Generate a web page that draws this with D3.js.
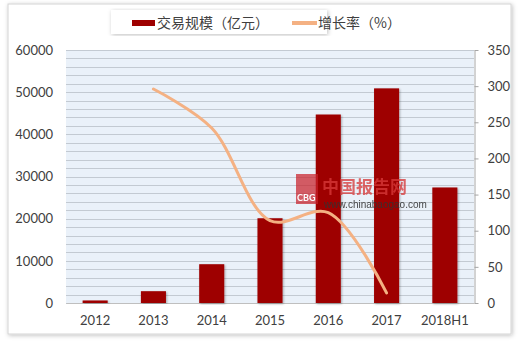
<!DOCTYPE html>
<html>
<head>
<meta charset="utf-8">
<script src="https://cdn.jsdelivr.net/npm/d3@7"></script>
<style>
  body { margin: 0; background: #fff; }
  svg { display: block; }
</style>
</head>
<body>
<div id="root"></div>
<script>
// chart values
var years = ['2012', '2013', '2014', '2015', '2016', '2017', '2018H1'];
var scaleValues = [600, 2800, 9200, 20100, 44700, 50900, 27400]; // 交易规模（亿元）
var growthYears = ['2013', '2014', '2015', '2016', '2017'];
var growthValues = [296, 242, 114, 125, 14]; // 增长率（%）
var leftTicks = [0, 10000, 20000, 30000, 40000, 50000, 60000];
var rightTicks = [0, 50, 100, 150, 200, 250, 300, 350];

var w = 520, h = 342;
// note: "top" is taken by window.top, so plot edges get their own names
var plotLeft = 66, plotRight = 474, plotTop = 50, plotBottom = 303;
var numFont = 'Lato, "Open Sans", sans-serif';
var cjkFont = '"Noto Sans CJK SC", sans-serif';

var svg = d3.select('#root').append('svg')
  .attr('width', w)
  .attr('height', h);

var defs = svg.append('defs');
var sh = defs.append('filter').attr('id', 'frameShadow')
  .attr('x', '-5%').attr('y', '-5%').attr('width', '110%').attr('height', '110%');
sh.append('feDropShadow').attr('dx', 1).attr('dy', 1).attr('stdDeviation', 2)
  .attr('flood-color', '#000').attr('flood-opacity', 0.25);
var bs = defs.append('filter').attr('id', 'barShadow')
  .attr('x', '-20%').attr('y', '-5%').attr('width', '140%').attr('height', '110%');
bs.append('feDropShadow').attr('dx', 1).attr('dy', 1).attr('stdDeviation', 1)
  .attr('flood-color', '#000').attr('flood-opacity', 0.3);

// outer frame
svg.append('rect')
  .attr('x', 8).attr('y', 4)
  .attr('width', 503).attr('height', 330)
  .attr('fill', '#fff')
  .attr('stroke', '#d4d4d4')
  .attr('filter', 'url(#frameShadow)');

var x = d3.scaleBand()
  .domain(years)
  .range([plotLeft, plotRight])
  .paddingInner(0.57)
  .paddingOuter(0.285);

var yLeft = d3.scaleLinear().domain([0, 60000]).range([plotBottom, plotTop]);
var yRight = d3.scaleLinear().domain([0, 350]).range([plotBottom, plotTop]);

// plot background + minor grid every 2000
svg.append('rect')
  .attr('x', plotLeft).attr('y', plotTop)
  .attr('width', plotRight - plotLeft).attr('height', plotBottom - plotTop)
  .attr('fill', '#eaf1f9');

svg.append('g').selectAll('line')
  .data(d3.range(0, 60001, 2000))
  .enter().append('line')
  .attr('x1', plotLeft).attr('x2', plotRight)
  .attr('y1', function(d) { return Math.round(yLeft(d)) + 0.5; })
  .attr('y2', function(d) { return Math.round(yLeft(d)) + 0.5; })
  .attr('stroke', '#c3cad2')
  .attr('stroke-width', 1);

// left axis labels
var la = svg.append('g')
  .attr('transform', 'translate(' + (plotLeft - 13) + ',0)')
  .call(d3.axisLeft(yLeft).tickValues(leftTicks).tickFormat(d3.format('d')).tickSize(0).tickPadding(0));
la.select('.domain').remove();
la.selectAll('text')
  .style('font-family', numFont).style('font-size', '13px').attr('fill', '#404040');

// right axis
var ra = svg.append('g')
  .attr('transform', 'translate(' + (plotRight + 0.5) + ',0)')
  .call(d3.axisRight(yRight).tickValues(rightTicks).tickSizeOuter(0).tickSizeInner(4).tickPadding(9));
ra.select('.domain').attr('stroke', '#a6a6a6');
ra.selectAll('line').attr('stroke', '#a6a6a6');
ra.selectAll('text')
  .style('font-family', numFont).style('font-size', '13px').attr('fill', '#404040');

// x labels
var xa = svg.append('g')
  .attr('transform', 'translate(0,' + plotBottom + ')')
  .call(d3.axisBottom(x).tickSize(0).tickPadding(13));
xa.select('.domain').attr('stroke', '#bfbfbf');
xa.selectAll('text')
  .style('font-family', numFont).style('font-size', '13px').attr('fill', '#404040');

// bars
svg.append('g').selectAll('rect.bar')
  .data(scaleValues)
  .enter().append('rect')
  .attr('class', 'bar')
  .attr('x', function(d, i) { return x(years[i]); })
  .attr('y', function(d) { return yLeft(d); })
  .attr('width', x.bandwidth())
  .attr('height', function(d) { return plotBottom - yLeft(d); })
  .attr('fill', '#9e0000')
  .attr('filter', 'url(#barShadow)');

// watermark
var wm = svg.append('g').attr('opacity', 0.9);
wm.append('rect')
  .attr('x', 296).attr('y', 174).attr('width', 22).attr('height', 30)
  .attr('fill', '#c8202a').attr('opacity', 0.8);
wm.append('text')
  .attr('x', 297).attr('y', 201)
  .style('font-family', numFont).style('font-size', '9px').style('font-weight', 'bold')
  .attr('fill', '#fff')
  .text('CBG');
wm.append('text')
  .attr('x', 322).attr('y', 193)
  .style('font-family', cjkFont).style('font-size', '17px').style('font-weight', 'bold')
  .attr('fill', '#d83a3a').attr('opacity', 0.85)
  .text('中国报告网');
wm.append('text')
  .attr('x', 324).attr('y', 208)
  .style('font-family', '"Liberation Sans", sans-serif').style('font-size', '10px')
  .attr('fill', '#333')
  .text('www.chinabaogao.com');

// growth line
var line = d3.line()
  .x(function(d, i) { return x(growthYears[i]) + x.bandwidth() / 2; })
  .y(function(d) { return yRight(d); })
  .curve(d3.curveCatmullRom.alpha(0.5));

svg.append('path')
  .datum(growthValues)
  .attr('d', line)
  .attr('fill', 'none')
  .attr('stroke', '#f4b183')
  .attr('stroke-width', 3)
  .attr('stroke-linecap', 'round');

// legend box
var legend = svg.append('g');
legend.append('rect')
  .attr('x', 111).attr('y', 10)
  .attr('width', 216).attr('height', 24)
  .attr('fill', '#fff')
  .attr('filter', 'url(#frameShadow)');
legend.append('rect')
  .attr('x', 132).attr('y', 20)
  .attr('width', 23).attr('height', 6)
  .attr('fill', '#9e0000');
legend.append('text')
  .attr('x', 157).attr('y', 28)
  .style('font-family', cjkFont).style('font-size', '14px')
  .attr('fill', '#404040')
  .text('交易规模（亿元）');
legend.append('line')
  .attr('x1', 292).attr('x2', 317)
  .attr('y1', 23).attr('y2', 23)
  .attr('stroke', '#f4b183').attr('stroke-width', 4);
legend.append('text')
  .attr('x', 318).attr('y', 28)
  .style('font-family', cjkFont).style('font-size', '14px')
  .attr('fill', '#404040')
  .text('增长率（%）');
</script>
</body>
</html>
